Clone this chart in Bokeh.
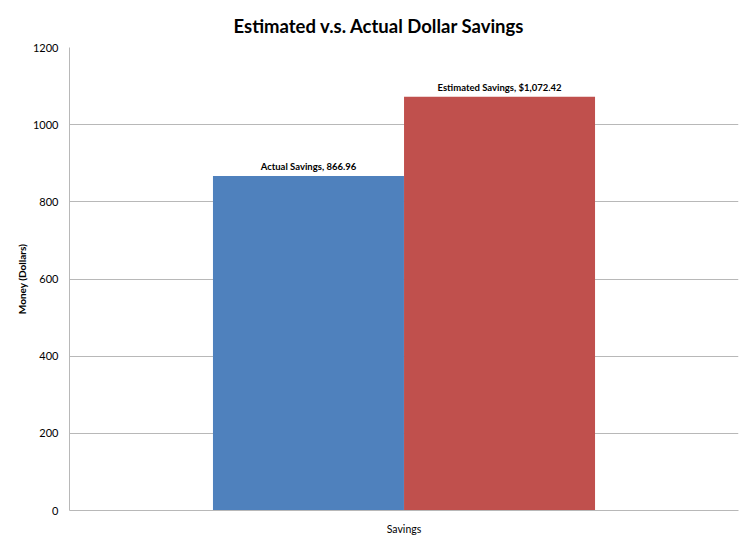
from bokeh.plotting import figure
from bokeh.models import ColumnDataSource, FactorRange, Range1d, FixedTicker, LabelSet
from bokeh.transform import dodge
from bokeh.core.properties import value
from bokeh.embed import file_html
from bokeh.resources import INLINE

category = ["Savings"]
series = ["Actual Savings", "Estimated Savings"]
values = [866.96, 1072.42]
value_labels = ["Actual Savings, 866.96", "Estimated Savings, $1,072.42"]
colors = ["#4F81BD", "#C0504D"]
offsets = [-0.1428, 0.1428]
y_ticks = [0, 200, 400, 600, 800, 1000, 1200]

FONT = "Lato"

p = figure(width=750, height=547, x_range=FactorRange(*category), y_range=Range1d(0, 1200),
           output_backend="svg", toolbar_location=None,
           title="Estimated v.s. Actual Dollar Savings")
p.min_border_left = 69
p.min_border_right = 12
p.min_border_top = 47
p.min_border_bottom = 37
p.outline_line_color = None

p.title.align = "left"
p.title.offset = 164
p.title.standoff = 22
p.title.text_font = FONT
p.title.text_font_size = "18.5px"
p.title.text_font_style = "bold"
p.title.text_color = "#000000"

for i in range(len(series)):
    src = ColumnDataSource(dict(x=category, top=[values[i]], label=[value_labels[i]]))
    p.vbar(x=dodge("x", offsets[i], range=p.x_range), top="top", bottom=0, width=0.2855,
           source=src, fill_color=colors[i], line_color=None)
    p.add_layout(LabelSet(x=dodge("x", offsets[i], range=p.x_range), y="top", text="label",
                          source=src, y_offset=4, text_align="center", text_baseline="bottom",
                          text_font=value(FONT), text_font_size="9.5px", text_font_style="bold",
                          text_color="#000000"))

p.xgrid.grid_line_color = None
p.ygrid.grid_line_color = "#b8b8b8"
p.ygrid.grid_line_width = 1

p.yaxis.ticker = FixedTicker(ticks=y_ticks)
p.yaxis.axis_label = "Money (Dollars)"
p.yaxis.axis_label_text_font = FONT
p.yaxis.axis_label_text_font_size = "10px"
p.yaxis.axis_label_text_font_style = "bold"
p.yaxis.axis_label_text_color = "#000000"
p.yaxis.axis_label_standoff = 2
p.yaxis.major_label_text_font = FONT
p.yaxis.major_label_text_font_size = "11px"
p.yaxis.major_label_text_font_style = "normal"
p.yaxis.major_label_text_color = "#000000"
p.yaxis.major_label_standoff = 11
p.yaxis.major_tick_line_color = None
p.yaxis.major_tick_out = 0
p.yaxis.major_tick_in = 0
p.yaxis.minor_tick_line_color = None
p.yaxis.minor_tick_out = 0
p.yaxis.axis_line_color = "#b8b8b8"

p.xaxis.major_label_text_font = FONT
p.xaxis.major_label_text_font_size = "10.5px"
p.xaxis.major_label_text_color = "#000000"
p.xaxis.major_label_standoff = 12
p.xaxis.major_tick_line_color = None
p.xaxis.major_tick_out = 0
p.xaxis.major_tick_in = 0
p.xaxis.axis_line_color = "#b8b8b8"

open("out.html", "w").write(file_html(p, INLINE))
